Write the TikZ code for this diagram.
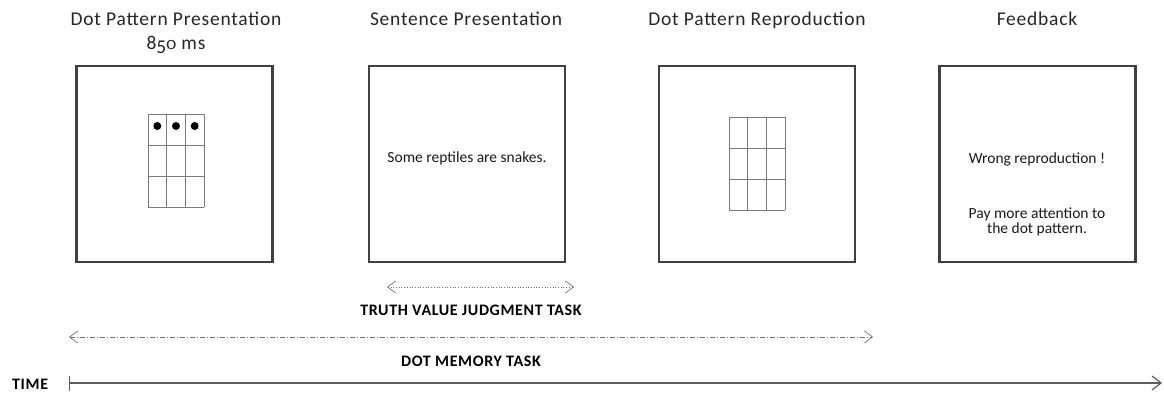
\documentclass[tikz,border=0pt]{standalone}
\usepackage{fontspec}
\setmainfont{Carlito}
\newfontfamily\spaced{Carlito}[LetterSpace=4]
\usetikzlibrary{arrows.meta}
\definecolor{frame}{HTML}{404040}
\definecolor{gridc}{HTML}{7A7A7A}
\definecolor{arrowc}{HTML}{707070}
% old-style figures for the duration: 5 drops below the baseline, 0 sits at x-height
\newcommand\osfive{\raisebox{-0.2em}{5}}
\newcommand\oszero{\scalebox{1}[0.72]{0}}
\begin{document}
\begin{tikzpicture}[x=1pt,y=-1pt,
  screen/.style={draw=frame,line width=2.2pt,minimum width=196pt,minimum height=196pt,inner sep=0pt},
  title/.style={font=\spaced\fontsize{19.5}{22}\selectfont,align=center,text=black!85},
  msg/.style={font=\fontsize{15.5}{17}\selectfont,align=center,text=black!90},
  tasklabel/.style={font=\spaced\bfseries\fontsize{16}{18}\selectfont},
  gridline/.style={draw=gridc,line width=0.8pt},
  span/.style={arrowc,line width=0.7pt,{Straight Barb[length=8pt,width=12pt,line width=0.7pt]}-{Straight Barb[length=8pt,width=12pt,line width=0.7pt]}},
]
\useasboundingbox (0,0) rectangle (1164,396);

% titles
\node[title,anchor=base] (t1) at (176,26) {Dot Pattern Presentation};
\node[title,anchor=base] (t1b) at (176,50) {8\osfive\oszero\ ms};
\node[title,anchor=base] (t2) at (466,26) {Sentence Presentation};
\node[title,anchor=base] (t3) at (757,26) {Dot Pattern Reproduction};
\node[title,anchor=base] (t4) at (1037,26) {Feedback};

% screens
\node[screen] (s1) at (174.5,164) {};
\node[screen] (s2) at (467,164) {};
\node[screen] (s3) at (757,164) {};
\node[screen] (s4) at (1037.5,164) {};

% dot pattern grid (3 x 3 cells) with three dots in the top row
\foreach \i in {0,1,2,3} {
  \draw[gridline] (148+18.67*\i,114) -- (148+18.67*\i,207);
  \draw[gridline] (148,114+31*\i) -- (204,114+31*\i);
}
\foreach \cx in {157.3,176,194.7} \fill (\cx,126) circle (4);

% empty grid for the reproduction screen
\foreach \i in {0,1,2,3} {
  \draw[gridline] (729+18.67*\i,117) -- (729+18.67*\i,210);
  \draw[gridline] (729,117+31*\i) -- (785,117+31*\i);
}

% screen texts
\node[msg,anchor=base] (m2) at (467,162) {Some reptiles are snakes.};
\node[msg,anchor=base] (m4a) at (1037,163) {Wrong reproduction !};
\node[msg,anchor=base] (m4b) at (1037,218) {Pay more attention to};
\node[msg,anchor=base] (m4c) at (1037,233) {the dot pattern.};

% task spans
\coordinate (tvL) at (387,287);
\coordinate (tvR) at (574,287);
\draw[span,dotted] (tvL) -- (tvR);
\node[tasklabel,anchor=base] (tvlab) at (471,315) {TRUTH VALUE JUDGMENT TASK};

\coordinate (dmL) at (69,337);
\coordinate (dmR) at (873,337);
\draw[span,dash pattern=on 5pt off 2pt on 1pt off 2pt] (dmL) -- (dmR);
\node[tasklabel,anchor=base] (dmlab) at (471,366) {DOT MEMORY TASK};

% time axis
\node[tasklabel,anchor=base west,inner sep=0pt] (time) at (12,389) {TIME};
\coordinate (t0) at (69,383);
\coordinate (tEnd) at (1162,383);
\draw[frame!85,line width=0.7pt] (69,376) -- (69,391);
\draw[frame!85,line width=2pt,-{Straight Barb[length=9pt,width=14pt,line width=1.2pt]}] (t0) -- (tEnd);
\end{tikzpicture}
\end{document}
